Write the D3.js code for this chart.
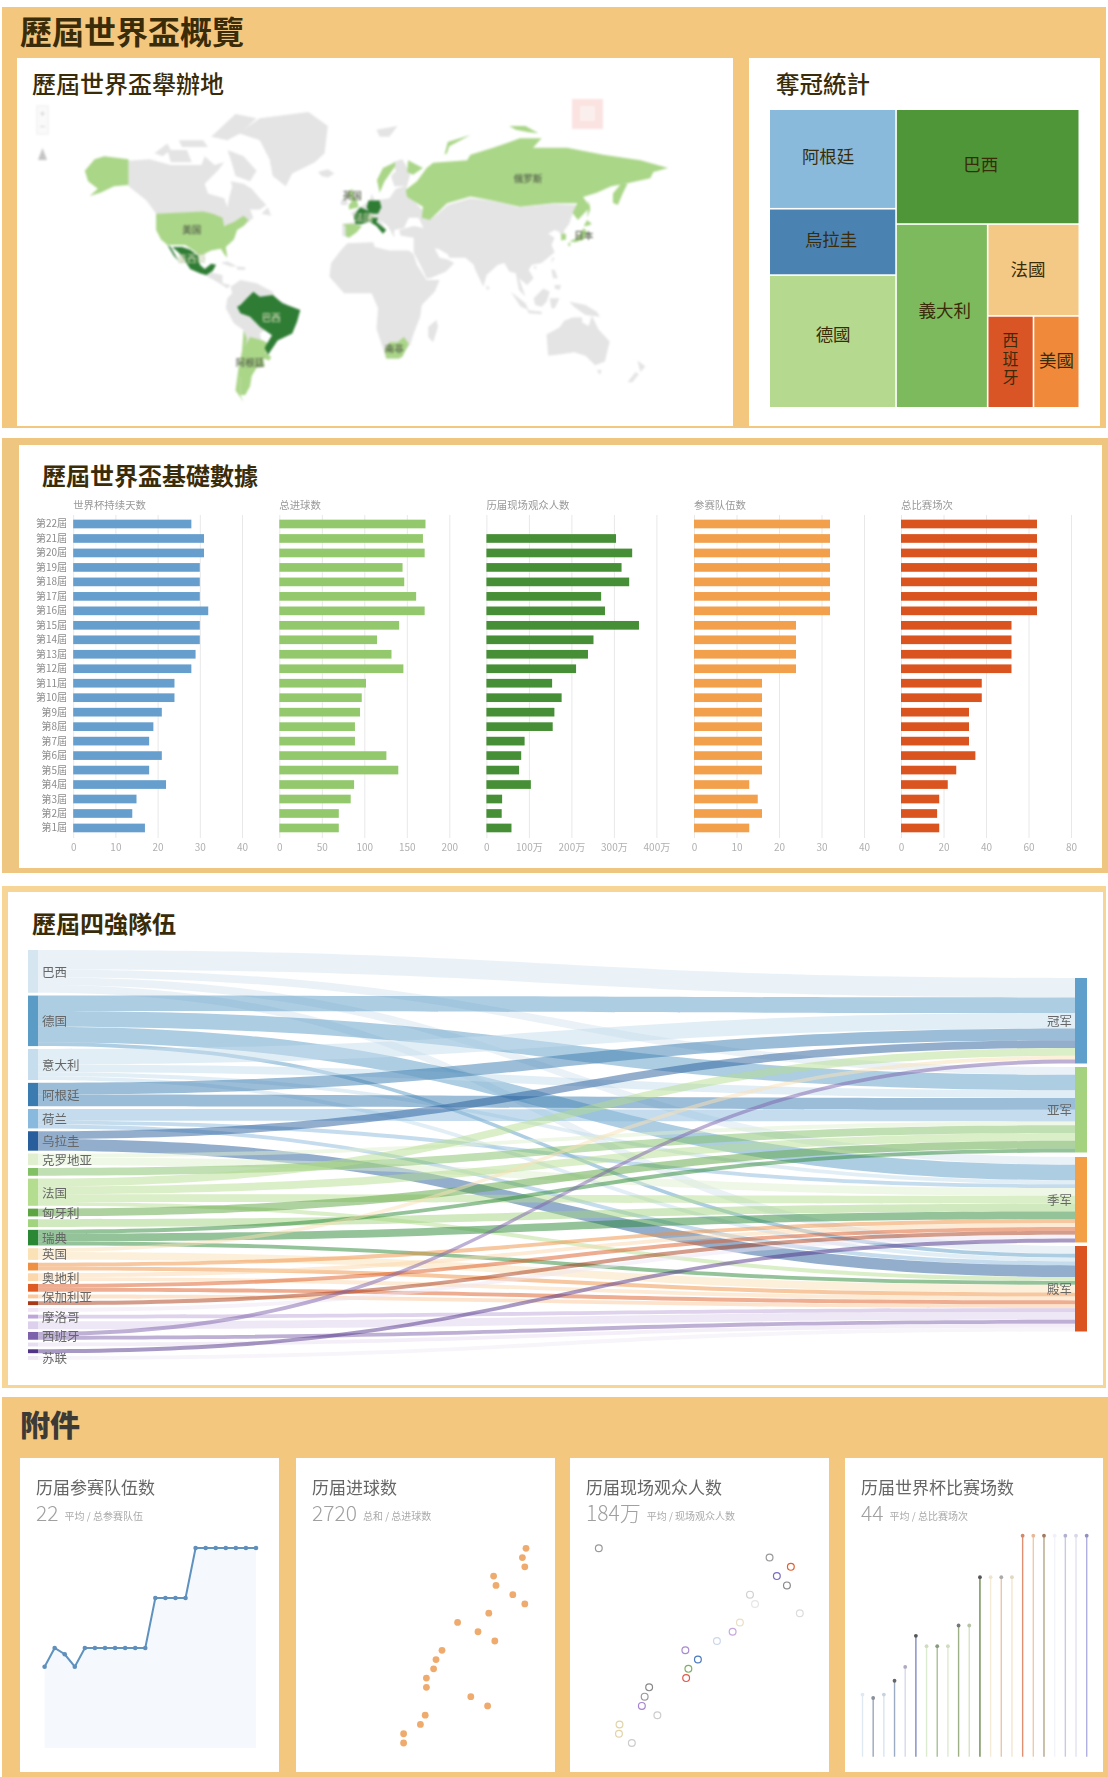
<!DOCTYPE html>
<html><head><meta charset="utf-8">
<style>
html,body{margin:0;padding:0;background:#fff;overflow:hidden}
svg{display:block}
text{font-family:"Noto Sans CJK SC","Noto Sans",sans-serif}
.tc{font-family:"Noto Sans CJK TC","Noto Sans",sans-serif}
.soft{filter:blur(0.7px)}
.softer{filter:blur(1px)}
</style>
<script src="https://cdn.jsdelivr.net/npm/d3@7/dist/d3.min.js"></script>
</head><body>
<svg id="c" width="1108" height="1777"></svg>
<script>
// ---------- data ----------
const rounds = ["第1屆","第2屆","第3屆","第4屆","第5屆","第6屆","第7屆","第8屆","第9屆","第10屆","第11屆","第12屆","第13屆","第14屆","第15屆","第16屆","第17屆","第18屆","第19屆","第20屆","第21屆","第22屆"];
const days = [17,14,15,22,18,21,18,19,21,24,24,28,29,30,30,32,30,30,30,31,31,28];
const goals = [70,70,84,88,140,126,89,89,95,97,102,146,132,115,141,171,161,147,145,171,169,172];
const crowd = [59,36,37,104.6,76.9,81.9,89.9,156,160,177,154.6,211,239,252,359,279,270,336,318,343,305,0];
const teams = [13,16,15,13,16,16,16,16,16,16,16,24,24,24,24,32,32,32,32,32,32,32];
const matches = [18,17,18,22,26,35,32,32,32,38,38,52,52,52,52,64,64,64,64,64,64,64];
const barTitles = ["世界杯持续天数","总进球数","历届现场观众人数","参赛队伍数","总比赛场次"];
const tickDays = [0,10,20,30,40], tickGoals=[0,50,100,150,200], tickCrowd=[0,100,200,300,400], tickTeams=[0,10,20,30,40], tickMatch=[0,20,40,60,80];
const titles = {main:"歷屆世界盃概覽",map:"歷屆世界盃舉辦地",tree:"奪冠統計",bars:"歷屆世界盃基礎數據",flow:"歷屆四強隊伍",extra:"附件"};

const champTree = {name:"root",children:[
  {name:"L",children:[{name:"阿根廷",value:3,color:"#8abadb"},{name:"烏拉圭",value:2,color:"#4a83b2"},{name:"德國",value:4,color:"#b4d98f"}]},
  {name:"R",children:[{name:"巴西",value:5,color:"#4f9638"},
    {name:"R2",children:[{name:"義大利",value:4,color:"#7dba5e"},
      {name:"R3",children:[{name:"法國",value:2,color:"#f4c985"},
        {name:"R4",children:[{name:"西班牙",value:1,color:"#da5526"},{name:"美國",value:1,color:"#f08a3a"}]}]}]}]}]};

const flowTeams = ["巴西","德国","意大利","阿根廷","荷兰","乌拉圭","克罗地亚","捷克","法国","匈牙利","波兰","瑞典","英国","比利时","奥地利","葡萄牙","保加利亚","美国","智利","摩洛哥","南斯拉夫","西班牙","韩国","土耳其","苏联"];
const flowColors = ["#d6e6f1","#5b9cc6","#c6ddee","#3a7cb0","#89b9dc","#275e9b","#dfefcf","#82c065","#b5dd90","#5da540","#a2d480","#2a8835","#fbe2b6","#ef8f42","#fcd7ab","#dd5a22","#fcc89a","#a83a18","#f0e6f6","#bda6d9","#ddd0ec","#7d61ab","#e8def2","#52338a","#efe9f5"];
const flowCounts = [[5,2,2,2],[4,4,4,1],[4,2,1,1],[3,3,0,0],[0,3,1,1],[2,0,0,3],[0,1,2,0],[0,2,0,0],[2,2,2,1],[0,2,0,0],[0,0,2,0],[0,1,2,1],[1,0,0,2],[0,0,1,1],[0,0,1,1],[0,0,1,1],[0,0,0,1],[0,0,1,0],[0,0,1,0],[0,0,0,1],[0,0,0,2],[1,0,0,1],[0,0,0,1],[0,0,1,0],[0,0,0,1]];
const flowHidden = ["捷克","波兰","比利时","葡萄牙","美国","智利","南斯拉夫","韩国","土耳其"];
const places = ["冠军","亚军","季军","殿军"];
const placeColors = ["#5f9fcb","#a5d27e","#f29f45","#db5420"];

const cards = [
 {t:"历届参赛队伍数",v:"22",s:"平均 / 总参赛队伍"},
 {t:"历届进球数",v:"2720",s:"总和 / 总进球数"},
 {t:"历届现场观众人数",v:"184万",s:"平均 / 现场观众人数"},
 {t:"历届世界杯比赛场数",v:"44",s:"平均 / 总比赛场次"}];
const ringColors = ["#ccc","#e2d3a8","#e2d3a8","#ccc","#a684d2","#999","#888","#e05a50","#7fae62","#4a78c0","#a98ad0","#ccd8ea","#c6a9dc","#e9dfc6","#dcdcdc","#e6e6e6","#d0d0d0","#888","#7a6cc0","#e06030","#999","#999"];
const stemColors = ["#dfe9f3","#9aa6bc","#d8e3f0","#9cabc4","#d5daea","#7f8cc0","#dcebd0","#a8c094","#dcebd0","#9db085","#d5e3c5","#6f8a50","#f5ead6","#ecc6a6","#f5e6d0","#e09070","#f2c9a4","#b5a585","#f3f3fa","#c8c8e8","#e2e2f2","#b0b0e0"];
const headColors = ["#dfe9f3","#8a8f9c","#c8d2dd","#666","#b0a8c0","#555","#cfdcc0","#8a9a80","#cfdcc0","#777","#b8c4a8","#555","#f0e4cc","#aaa","#e0d8c0","#d08a6a","#e8b898","#a07a60","#f0f0f8","#b0b0d0","#d8d8e8","#9090c0"];

// geography: rings of [lon,lat]
const landPolys = [
 [[-141,69.5],[-128,70],[-115,68],[-108,68],[-96,68],[-94,71],[-88,68],[-82,69],[-86,66],[-94,61],[-92,57],[-82,55],[-80,51],[-79,55],[-77,60],[-78,62],[-70,61],[-65,59],[-60,55],[-56,52],[-60,50],[-66,50],[-64,46],[-67,44],[-70,42],[-80,42],[-95,46],[-124,46],[-124,48],[-130,54],[-141,60]],
 [[-97,20],[-95,18],[-88,16],[-83,15],[-83,10],[-78,9],[-80,7],[-85,10],[-92,14],[-97,16]],
 [[-80,73],[-70,71],[-62,66],[-66,62],[-75,64],[-78,70]],[[-117,73],[-105,73],[-102,69],[-115,69]],[[-90,77],[-75,83],[-62,82],[-72,78],[-80,76]],[[-125,72],[-117,75],[-115,73],[-120,71]],[[-110,76],[-95,76],[-92,74],[-108,74]],
 [[-59,48],[-53,47],[-55,51]],
 [[-73,78],[-60,82],[-30,83.5],[-18,80],[-20,72],[-26,69],[-40,65],[-44,60],[-52,64],[-54,70],[-60,76]],
 [[-24,65.5],[-18,66.5],[-14,65],[-18,63.5],[-22,64]],
 [[-84,22],[-80,23],[-74,20],[-78,20]],[[-74,20],[-69,19.5],[-69,18],[-74,18]],
 [[-78,8],[-72,12],[-62,10],[-52,5],[-50,0],[-44,-2],[-45,-10],[-60,-20],[-58,-28],[-68,-30],[-70,-18],[-76,-14],[-81,-5],[-80,1],[-77,4]],
 [[-9,37],[-9,43],[-1,44],[-2,47],[-4,48],[2,51],[8,54],[9,57],[11,54],[20,55],[24,59],[30,60],[23,60],[21,64],[24,66],[22,69],[28,70],[33,65],[30,58],[40,50],[45,45],[50,48],[56,52],[70,55],[82,54],[100,51],[121,52.5],[136,52],[133,48],[131,43],[128,40],[127,35],[125,39],[122,40],[118,38],[122,36],[120,32],[122,28],[114,22],[108,21],[106,18],[109,13],[105,9],[100,13],[104,2],[100,6],[98,16],[94,17],[91,22],[87,21],[80,15],[78,8],[73,18],[72,21],[67,25],[57,25],[56,27],[50,30],[48,30],[51,25],[56,24],[60,22],[55,17],[45,13],[43,13],[39,21],[35,28],[35,36],[27,37],[26,40],[35,42],[41,41],[38,46],[32,46],[29,41],[23,40],[23,36],[19,42],[14,45],[18,40],[16,38],[12,42],[8,44],[3,43],[0,39],[-5,36]],
 [[-6,33],[10,33.5],[11,31],[20,29],[32,29],[35,27],[37,21],[43,12],[51,12],[48,5],[40,-3],[39,-10],[35,-20],[33,-26],[26,-34],[18,-34],[12,-17],[13,-5],[9,4],[-8,4],[-17,14],[-16,22],[-10,29]],
 [[49,-12],[50,-16],[47,-25],[44,-22],[44,-16]],[[-10,54],[-6,55],[-6,52],[-10,52]],[[80,9],[82,7],[80,6]],
 [[95,5],[104,-2],[106,-6],[101,-4]],[[105,-6],[114,-7],[114,-8.5],[106,-8]],[[109,1],[115,7],[119,5],[117,-1],[114,-4],[110,-3]],[[119,1],[125,1],[122,-5],[120,-5]],
 [[131,-1],[141,-3],[148,-7],[150,-10],[141,-9],[134,-4]],[[120,18],[122,18],[124,13],[121,13]],[[122,9],[126,9],[125,6],[122,7]],[[120,22],[122,25],[120.5,25]],[[109,20],[111,20],[110,18]],
 [[117,-20.5],[125,-16.5],[128,-12.5],[133,-10.5],[139,-10.5],[139,-13.5],[143,-15.5],[145,-9.5],[149,-17.5],[156,-24.5],[153,-35.5],[147,-37.5],[141,-32.5],[134,-30.5],[127,-31.5],[118,-32.5]],
 [[148,-40],[151,-40],[150,-42.5]],[[173,-35],[178,-38],[175,-41]],[[167,-46],[172,-41],[174,-42],[170,-46]],
 [[12,79],[25,80],[20,77],[14,77]]
];
const hostSingle = [
 [[-124,48],[-95,49],[-89,48],[-83,46],[-82,42],[-76,44],[-70,47],[-67,45],[-70,42],[-74,40],[-76,35],[-81,31],[-80,25],[-82,27],[-84,30],[-90,29],[-97,26],[-101,29],[-106,32],[-117,32],[-121,35],[-124,40]],
 [[-168,66],[-162,70],[-156,71],[-141,70],[-141,60.5],[-150,60],[-158,57.5],[-165,56],[-160,59],[-166,62]],
 [[30,58.5],[37,62],[43,67],[47,68.8],[68,69.7],[70,71.5],[84,73.7],[92.6,75.2],[100.6,76.6],[114,76.6],[108.6,73.7],[129.6,73.7],[152,71.5],[175,69.7],[192,67],[183,65.5],[181,63.2],[167,61.2],[157,60],[148,57.3],[139.5,55.5],[144,51.2],[136.4,45],[133,48.3],[136,52.8],[121,52.8],[100.6,51.2],[82,54.2],[70,55.8],[55.6,52.8],[49.4,48.3],[45,45],[40,46],[40.7,51.2],[31,55.5]],
 [[158,53],[161,52],[164,57],[167,61],[163,61],[158,57]],
 [[31.5,69.7],[40.7,67],[34.6,64.5],[31,65.5]],
 [[54,71.5],[56,75.5],[70,77.5],[57,74.2],[55.5,72]],
 [[94,80],[104,80],[112,78],[106,78.3],[98,79]],
 [[142,46],[143,54],[144,50]],
 [[23.5,69],[16,67],[12.3,62.5],[14,57.3],[17,62],[23.5,67.5]],
 [[-66,-22],[-58,-24],[-54,-26],[-58,-34],[-57,-38],[-62,-39],[-65,-43],[-66,-48],[-69,-52],[-72,-52],[-72,-45],[-71,-35],[-69,-27]],
 [[-58,-30],[-53,-33],[-54,-35],[-58,-34]],
 [[-70,-18],[-68,-23],[-70,-33],[-72,-45],[-72,-52],[-70,-55],[-75,-50],[-73,-38],[-71,-30]],
 [[17,-29],[20,-25],[25,-25],[29,-22],[32,-26],[28,-33],[26,-34],[18,-34]],
 [[-9,43],[-2,43],[3,42],[0,39],[-5,36],[-7,37],[-7,42]],
 [[-5,50],[1,51],[0,54],[-2,56],[-3,59],[-6,57],[-3,54],[-5,52]],
 [[6,46],[10,47],[10,46],[7,45.5]],
 [[131,34],[136,36],[140,41],[142,39],[140,35],[135,33.5]],[[140,42],[142,45],[145,43],[142,42]],[[130,33],[132,33],[131,31]],
 [[126,38],[129,38],[129,35],[126,34.5]]
];
const hostDouble = [
 [[-74,-4],[-72,-3],[-68,1],[-64,5],[-60,2],[-52,3],[-46,-2],[-35,-6],[-37,-13],[-40,-20],[-49,-24],[-55,-32],[-57,-28],[-52.5,-21],[-60,-16],[-66,-10],[-72,-8]],
 [[-114,31],[-108,31],[-103,29.5],[-98,26],[-97,21],[-94,18.5],[-90,21.5],[-87,21],[-89,17.5],[-93,15],[-97,16],[-103,18.5],[-106,23],[-109,27],[-112,29.5]],
 [[-117,32],[-115,31],[-110,23],[-113,26]],
 [[6,51],[7,54],[14,54],[15,51],[13,48],[8,48]],
 [[-2,47],[2,51],[8,49],[7,44],[3,43],[-1,43]],
 [[7,44],[9,46],[13,46],[12,44],[18,40],[16,38],[12,42],[8,44]]
];
const mapLabels = [["俄罗斯",105.5,63,"#55604a"],["美国",-102,40,"#55604a"],["墨西哥",-102,24.5,"#c9d2b0"],["巴西",-53,-10.5,"#d0d8b8"],["阿根廷",-66,-36,"#55604a"],["南非",23,-28.5,"#55604a"],["日本",140,37,"#55604a"],["英国",-3,56,"#55604a"],["法国",4,46,"#c9d2b0"]];

// ---------- helpers ----------
const ORANGE="#f4c77f";
const svg=d3.select("#c");
const band=(x,y,w,h,c)=>svg.append("rect").attr("x",x).attr("y",y).attr("width",w).attr("height",h).attr("fill",c);
const label=(g,x,y,txt,size,col,weight,cls,anchor)=>g.append("text").attr("x",x).attr("y",y).attr("dy","0.35em")
  .attr("font-size",size).attr("fill",col).attr("font-weight",weight||400).attr("class",cls||null).attr("text-anchor",anchor||"start").text(txt);

// ---------- section frames ----------
band(2,7,1104,421,ORANGE);
band(17,58,716,368,"#fff");
band(749,58,351,368,"#fff");
band(2,438,1106,435,"#eec680");
band(19,445,1083,423,"#fff");
band(2,886,1104,502,"#f6d596");
band(8,892,1095,493,"#fff");
band(2,1397,1106,380,ORANGE);
const DARK="#3a2c08";
label(svg,20,33,titles.main,32,DARK,700,"tc");
label(svg,32,85,titles.map,24,DARK,500,"tc");
label(svg,776,85,titles.tree,23.5,DARK,500,"tc");
label(svg,42,477,titles.bars,24,DARK,700,"tc");
label(svg,32,925,titles.flow,24,DARK,700,"tc");
label(svg,20,1425,titles.extra,30,"#3c3a36",900,"tc");

// ---------- map ----------
const mapG=svg.append("g").attr("class","softer");
const lonX=d3.scaleLinear().domain([0,90]).range([357,357+1.62*90]);
const millerY=d3.scaleLinear().domain([0,1]).range([300,205]);
const miller=lat=>1.25*Math.log(Math.tan(Math.PI/4+0.4*lat*Math.PI/180));
const planar=d3.geoTransform({point(lon,lat){this.stream.point(lonX(lon),millerY(miller(lat)));}});
const geoPath=d3.geoPath(planar);
const toFeature=r=>({type:"Feature",geometry:{type:"Polygon",coordinates:[[...r,r[0]]]}});
const drawLayer=(polys,fill)=>mapG.append("g").selectAll("path").data(polys.map(toFeature)).join("path").attr("d",geoPath).attr("fill",fill);
drawLayer(landPolys,"#e4e4e4");
drawLayer(hostSingle,"#aad688");
drawLayer(hostDouble,"#2f7d34");
mapG.append("g").selectAll("text").data(mapLabels).join("text")
  .attr("x",d=>lonX(d[1])).attr("y",d=>millerY(miller(d[2]))).attr("dy","0.35em").attr("text-anchor","middle")
  .attr("font-size",9.5).attr("font-weight",500).attr("fill",d=>d[3]).text(d=>d[0]);
// zoom control + stamp
const ctl=mapG.append("g");
ctl.append("rect").attr("x",37).attr("y",106).attr("width",11).attr("height",28).attr("fill","#fafafa").attr("stroke","#eee");
label(ctl,42.5,114,"+",9,"#bbb",400,null,"middle");
label(ctl,42.5,127,"−",9,"#bbb",400,null,"middle");
ctl.append("path").attr("d",d3.line()([[42.5,148],[47,160],[38,160]])+"Z").attr("fill","#c4c4c4");
const stamp=mapG.append("g");
stamp.append("rect").attr("x",572).attr("y",99).attr("width",31).attr("height",30).attr("fill","#fae3e1");
stamp.append("rect").attr("x",580).attr("y",106).attr("width",15).attr("height",15).attr("fill","#fbefed");

// ---------- treemap ----------
const root=d3.hierarchy(champTree).sum(d=>d.value||0);
d3.treemap().tile(d3.treemapSliceDice).size([308.5,297]).paddingInner(1.6).round(false)(root);
const treeG=svg.append("g").attr("transform","translate(770,110)");
const leaves=treeG.selectAll("g").data(root.leaves()).join("g").attr("transform",d=>`translate(${d.x0},${d.y0})`);
leaves.append("rect").attr("width",d=>d.x1-d.x0).attr("height",d=>d.y1-d.y0).attr("fill",d=>d.data.color);
leaves.each(function(d){
  const g=d3.select(this),w=d.x1-d.x0,h=d.y1-d.y0,n=d.data.name;
  if(n==="西班牙"){
    g.append("text").attr("x",w/2).attr("y",h/2-2).attr("font-size",16).attr("fill",DARK).attr("class","tc")
      .attr("text-anchor","middle").attr("dominant-baseline","central").style("writing-mode","vertical-rl").style("letter-spacing","2.5px").text(n);
    return;
  }
  const off={"阿根廷":[-4.5,-2],"巴西":[-7,-2],"烏拉圭":[-1.5,-2],"德國":[.5,-7],"義大利":[3,-5],"法國":[-5.5,0],"美國":[0,-1.4]}[n]||[0,0];
  label(g,w/2+off[0],h/2+off[1],n,17.5,DARK,400,"tc","middle");
});

// ---------- bar panels ----------
const bandY=d3.scaleBand().domain(rounds.slice().reverse()).range([516.76,835.2]).paddingInner(0.4).paddingOuter(0.2);
const barG=svg.append("g").attr("class","soft");
const panels=[
 {vals:days,x0:73.2,w:168.8,max:40,ticks:tickDays,col:"#669fcd",t:barTitles[0],f:d=>d},
 {vals:goals,x0:279.3,w:170,max:200,ticks:tickGoals,col:"#93c96c",t:barTitles[1],f:d=>d},
 {vals:crowd,x0:486.4,w:170,max:400,ticks:tickCrowd,col:"#478f36",t:barTitles[2],f:d=>d?d+"万":"0"},
 {vals:teams,x0:694,w:170,max:40,ticks:tickTeams,col:"#f2a04c",t:barTitles[3],f:d=>d},
 {vals:matches,x0:901,w:170,max:80,ticks:tickMatch,col:"#d9541f",t:barTitles[4],f:d=>d}];
panels.forEach(p=>{
  const x=d3.scaleLinear().domain([0,p.max]).range([p.x0,p.x0+p.w]);
  const ax=d3.axisBottom(x).tickValues(p.ticks).tickFormat(p.f).tickSize(-323).tickPadding(6);
  const g=barG.append("g").attr("transform","translate(0,838)").call(ax);
  g.select(".domain").remove();
  g.selectAll("line").attr("stroke","#e8e8e8");
  g.selectAll("text").attr("fill","#b0b0b0").attr("font-size",10).attr("font-family","'Noto Sans',sans-serif");
  barG.append("g").selectAll("rect").data(p.vals).join("rect")
    .attr("x",x(0)).attr("y",(d,i)=>bandY(rounds[i])).attr("height",bandY.bandwidth())
    .attr("width",d=>x(d)-x(0)).attr("fill",p.col);
  label(barG,p.x0,505,p.t,10.4,"#999");
});
barG.append("g").selectAll("text").data(rounds).join("text")
  .attr("x",67).attr("y",d=>bandY(d)+bandY.bandwidth()/2).attr("dy","0.35em").attr("text-anchor","end")
  .attr("font-size",10).attr("fill","#8c8c8c").text(d=>d);

// ---------- sankey ----------
const flowG=svg.append("g").attr("class","soft");
const unit=d3.scaleLinear().domain([0,1]).range([0,3.886]);
const leftX=[28,38], rightX=[1075,1087];
const rightStart=[978,1067,1157,1246];
let ly=950; const gap=2.83;
const rightCursor=rightStart.slice();
const flowLinks=[],flowNodes=[];
flowTeams.forEach((t,i)=>{
  const total=d3.sum(flowCounts[i]); const y0=ly; let cur=ly;
  flowCounts[i].forEach((c,j)=>{
    if(!c) return;
    const h=unit(c);
    flowLinks.push({i,sy:cur,ty:rightCursor[j],h});
    cur+=h; rightCursor[j]+=h;
  });
  flowNodes.push({t,i,y0,h:unit(total)});
  ly+=unit(total)+gap;
});
const bandPath=d=>{
  const p=d3.path(),a=leftX[1],b=rightX[0],m=(a+b)/2;
  p.moveTo(a,d.sy); p.bezierCurveTo(m,d.sy,m,d.ty,b,d.ty);
  p.lineTo(b,d.ty+d.h); p.bezierCurveTo(m,d.ty+d.h,m,d.sy+d.h,a,d.sy+d.h); p.closePath();
  return p.toString();
};
flowG.append("g").selectAll("path").data(flowLinks).join("path").attr("d",bandPath)
  .attr("fill",d=>flowColors[d.i]).attr("fill-opacity",0.5);
flowG.append("g").selectAll("rect").data(flowNodes).join("rect")
  .attr("x",leftX[0]).attr("y",d=>d.y0).attr("width",leftX[1]-leftX[0]).attr("height",d=>d.h).attr("fill",d=>flowColors[d.i]);
flowG.append("g").selectAll("rect").data(places).join("rect")
  .attr("x",rightX[0]).attr("y",(d,i)=>rightStart[i]).attr("width",rightX[1]-rightX[0]).attr("height",unit(22)).attr("fill",(d,i)=>placeColors[i]);
flowG.append("g").selectAll("text").data(flowNodes.filter(n=>!flowHidden.includes(n.t))).join("text")
  .attr("x",42).attr("y",d=>d.y0+d.h/2+1).attr("dy","0.35em").attr("font-size",12.5).attr("fill","#666").text(d=>d.t);
flowG.append("g").selectAll("text").data(places).join("text")
  .attr("x",1072).attr("y",(d,i)=>rightStart[i]+unit(22)/2+.5).attr("dy","0.35em").attr("text-anchor","end").attr("font-size",12.5).attr("fill","#666").text(d=>d);

// ---------- cards ----------
const cardBox=[[20,259],[296,259],[570,259],[845,258]];
const cardG=svg.append("g").attr("class","soft");
cards.forEach((c,i)=>{
  const x=cardBox[i][0];
  cardG.append("rect").attr("x",x).attr("y",1458).attr("width",cardBox[i][1]).attr("height",314).attr("fill","#fff");
  label(cardG,x+16,1488,c.t,17,"#666");
  const v=label(cardG,x+16,1514,c.v,21,"#a0a0a0",300);
  v.attr("font-family","Roboto,'Noto Sans CJK SC',sans-serif");
  const vw=v.node().getComputedTextLength();
  label(cardG,x+16+vw+6,1516,c.s,10,"#aaa");
});
const idx=d3.range(22);
// card 1: line & area
const x1=d3.scalePoint().domain(idx).range([44.6,256]);
const y1=d3.scaleLinear().domain([0,32]).range([1748,1548]);
cardG.append("path").attr("d",d3.area().x((d,i)=>x1(i)).y0(y1(0)).y1(d=>y1(d))(teams)).attr("fill","#f5f8fc");
cardG.append("path").attr("d",d3.line().x((d,i)=>x1(i)).y(d=>y1(d))(teams)).attr("fill","none").attr("stroke","#5f92bf").attr("stroke-width",2);
cardG.append("g").selectAll("circle").data(teams).join("circle").attr("cx",(d,i)=>x1(i)).attr("cy",d=>y1(d)).attr("r",2.3).attr("fill","#5f8fba");
// card 2/3: dots by round
const yRow=d3.scalePoint().domain(idx).range([1743,1548.3]);
const x2=d3.scaleLinear().domain([70,172]).range([403.6,526]);
cardG.append("g").selectAll("circle").data(goals).join("circle").attr("cx",d=>x2(d)).attr("cy",(d,i)=>yRow(i)).attr("r",3.4).attr("fill","#eeab6d");
const x3=d3.scaleLinear().domain([0,359]).range([598.8,799.8]);
cardG.append("g").selectAll("circle").data(crowd).join("circle").attr("cx",d=>x3(d)).attr("cy",(d,i)=>yRow(i)).attr("r",3.4)
  .attr("fill","#fff").attr("stroke",(d,i)=>ringColors[i]).attr("stroke-width",1.2);
// card 4: lollipop
const x4=d3.scalePoint().domain(idx).range([862.5,1086.7]);
const y4=d3.scaleLinear().domain([0,64]).range([1756.7,1535.7]);
cardG.append("g").selectAll("line").data(matches).join("line").attr("x1",(d,i)=>x4(i)).attr("x2",(d,i)=>x4(i)).attr("y1",y4(0)).attr("y2",d=>y4(d))
  .attr("stroke",(d,i)=>stemColors[i]).attr("stroke-width",1.4);
cardG.append("g").selectAll("circle").data(matches).join("circle").attr("cx",(d,i)=>x4(i)).attr("cy",d=>y4(d)).attr("r",1.9).attr("fill",(d,i)=>headColors[i]);
</script>
</body></html>
